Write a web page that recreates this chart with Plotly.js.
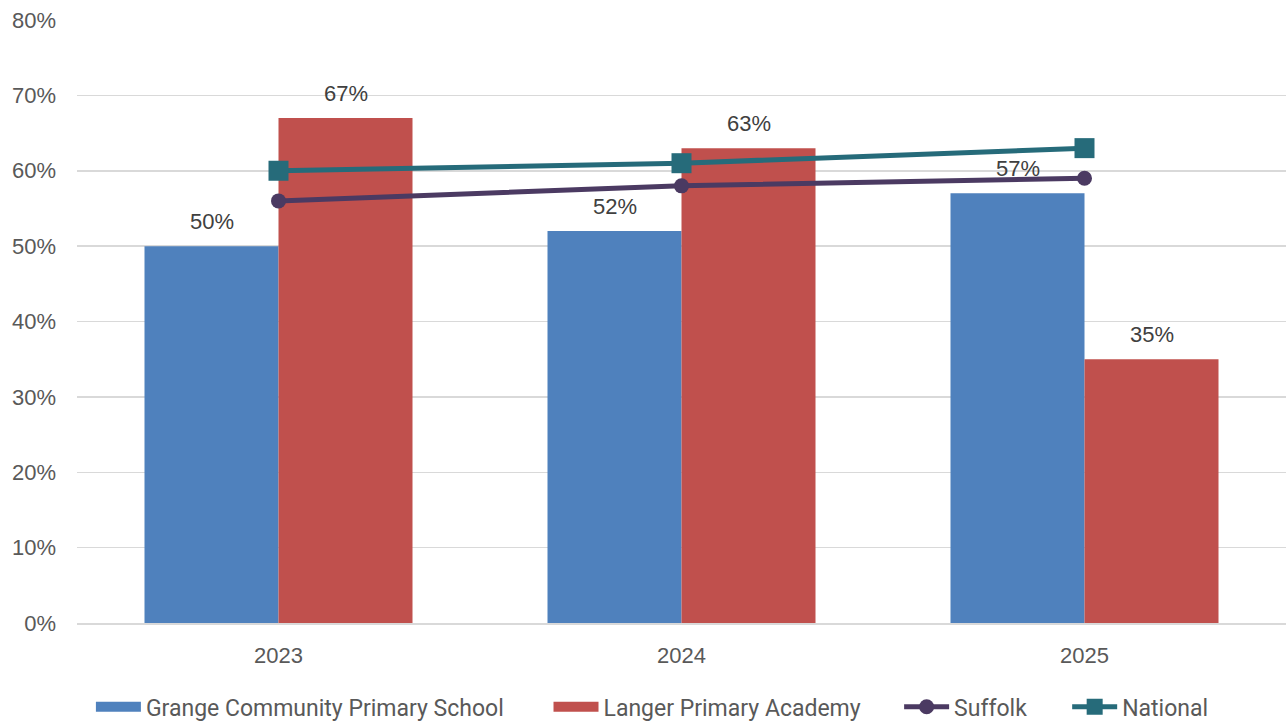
<!DOCTYPE html>
<html>
<head>
<meta charset="utf-8">
<script src="https://cdn.plot.ly/plotly-3.0.1.min.js"></script>
<style>html,body{margin:0;padding:0;background:#fff;}#chart{width:1286px;height:722px;}</style>
</head>
<body>
<div id="chart"></div>
<script>
const years = ['2023', '2024', '2025'];
const grange = [0.50, 0.52, 0.57];
const langer = [0.67, 0.63, 0.35];
const suffolk = [0.56, 0.58, 0.59];
const national = [0.60, 0.61, 0.63];
const yTicks = [0, 0.1, 0.2, 0.3, 0.4, 0.5, 0.6, 0.7, 0.8];

const colors = {grange: '#4F81BD', langer: '#C0504D', suffolk: '#4B3A62', national: '#266B7A'};
const labelFont = {family: 'Liberation Sans, Arial, sans-serif', size: 22, color: '#404040'};
const tickFont = {family: 'Liberation Sans, Arial, sans-serif', size: 22, color: '#595959'};
const empty = years.map(() => null);

const traces = [
  {type: 'bar', name: 'Grange Community Primary School', x: years, y: grange,
   marker: {color: colors.grange}, showlegend: false},
  {type: 'bar', name: 'Langer Primary Academy', x: years, y: langer,
   marker: {color: colors.langer}, showlegend: false},
  {type: 'scatter', mode: 'lines', name: 'Grange Community Primary School', x: years, y: empty,
   line: {color: colors.grange, width: 15}, showlegend: true, legend: 'legend'},
  {type: 'scatter', mode: 'lines', name: 'Langer Primary Academy', x: years, y: empty,
   line: {color: colors.langer, width: 15}, showlegend: true, legend: 'legend2'},
  {type: 'scatter', mode: 'lines+markers', name: 'Suffolk', x: years, y: suffolk, legend: 'legend3',
   line: {color: colors.suffolk, width: 5}, marker: {symbol: 'circle', size: 15, color: colors.suffolk}},
  {type: 'scatter', mode: 'lines+markers', name: 'National', x: years, y: national, legend: 'legend4',
   line: {color: colors.national, width: 5}, marker: {symbol: 'square', size: 20, color: colors.national}}
];

const annotations = [];
years.forEach((yr, i) => {
  annotations.push({x: i, y: grange[i], xref: 'x', yref: 'y', text: Math.round(grange[i] * 100) + '%',
    showarrow: false, xshift: -67, yshift: 10, yanchor: 'bottom', font: labelFont});
  annotations.push({x: i, y: langer[i], xref: 'x', yref: 'y', text: Math.round(langer[i] * 100) + '%',
    showarrow: false, xshift: 67, yshift: 10, yanchor: 'bottom', font: labelFont});
});

function legendAt(xpos) {
  return {orientation: 'h', x: xpos, xanchor: 'left', yref: 'container', y: 0.021, yanchor: 'middle',
    font: {family: 'Roboto, sans-serif', size: 23, color: '#595959'},
    itemwidth: 45, bgcolor: 'rgba(0,0,0,0)'};
}

const layout = {
  width: 1286, height: 722,
  margin: {l: 77, r: 0, t: 20, b: 99},
  paper_bgcolor: '#ffffff', plot_bgcolor: '#ffffff',
  barmode: 'group', bargap: 0.335, bargroupgap: 0,
  showlegend: true,
  hovermode: false,
  annotations: annotations,
  xaxis: {type: 'category', categoryorder: 'array', categoryarray: years, range: [-0.5, 2.5],
    autorange: false, showgrid: false, showline: true, linecolor: '#D9D9D9', linewidth: 1.5,
    ticks: '', tickfont: tickFont, ticklabelstandoff: 12},
  yaxis: {range: [0, 0.8], autorange: false, tickvals: yTicks, tickformat: '.0%', showgrid: true,
    gridcolor: '#D9D9D9', gridwidth: 1.5, zeroline: false, showline: false, ticks: '',
    tickfont: tickFont, ticklabelstandoff: 20},
  legend: legendAt(0.0115),
  legend2: legendAt(0.39),
  legend3: legendAt(0.68),
  legend4: legendAt(0.819),
  font: {family: 'Liberation Sans, Arial, sans-serif', color: '#595959'}
};

Plotly.newPlot('chart', traces, layout, {displayModeBar: false, staticPlot: true});
</script>
</body>
</html>
